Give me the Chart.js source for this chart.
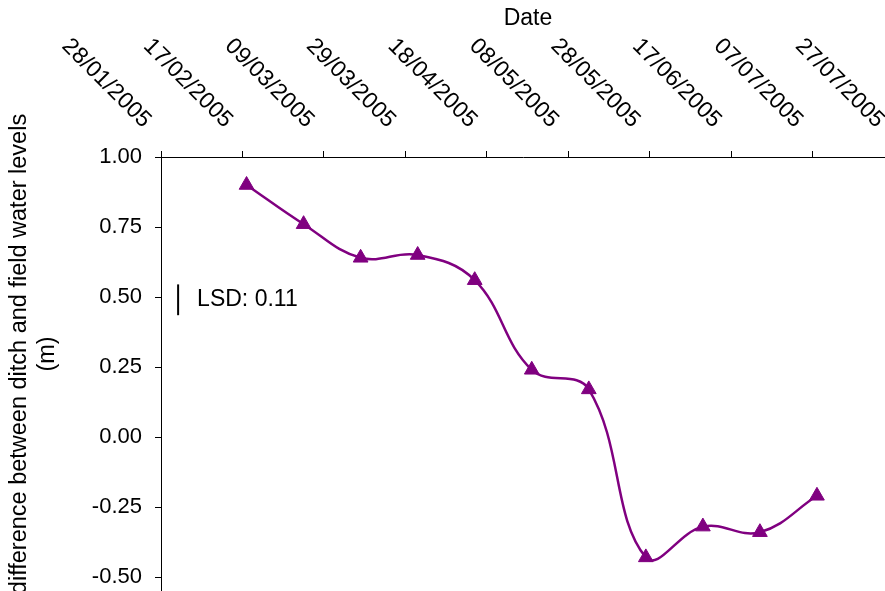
<!DOCTYPE html>
<html>
<head>
<meta charset="utf-8">
<script src="https://cdn.jsdelivr.net/npm/chart.js@4.4.1/dist/chart.umd.min.js"></script>
<style>
  html, body { margin: 0; padding: 0; background: #fff; }
  canvas { display: block; }
</style>
</head>
<body>
<canvas id="level-chart" width="885" height="591"></canvas>
<script>
// sampling dates and measured level difference (m)
const sampleDates = ['18/02/2005', '04/03/2005', '18/03/2005', '01/04/2005', '15/04/2005', '29/04/2005',
    '13/05/2005', '27/05/2005', '10/06/2005', '24/06/2005', '08/07/2005'];
const levelDiff = [0.90, 0.76, 0.64, 0.65, 0.56, 0.24, 0.17, -0.43, -0.32, -0.34, -0.21];

// date axis tick labels (every 20 days)
const dateTicks = ['28/01/2005', '17/02/2005', '09/03/2005', '29/03/2005', '18/04/2005', '08/05/2005',
    '28/05/2005', '17/06/2005', '07/07/2005', '27/07/2005'];
const yTicks = [-0.50, -0.25, 0.00, 0.25, 0.50, 0.75, 1.00];

const lsdValue = 0.11;
const yTitle = ['difference between ditch and field water levels', '(m)'];

const PURPLE = '#800080';
const FAMILY = '"Liberation Sans", Arial, sans-serif';
const BIG_FONT = '23px ' + FAMILY;

// days since the first axis date
const dayOf = (s) => {
    const p = s.split('/');
    const t0 = dateTicks[0].split('/');
    return (Date.UTC(+p[2], +p[1] - 1, +p[0]) - Date.UTC(+t0[2], +t0[1] - 1, +t0[0])) / 86400000;
}

const points = sampleDates.map((d, i) => ({ x: dayOf(d), y: levelDiff[i] }));
const tickDays = dateTicks.map(dayOf);

const extraText = {
    id: 'extraText',
    afterDraw(chart) {
        const { ctx, chartArea, scales: { x, y } } = chart;
        ctx.save();
        ctx.fillStyle = '#000';
        ctx.strokeStyle = '#000';
        ctx.font = BIG_FONT;

        // rotated date labels above the top axis
        dateTicks.forEach((lbl, i) => {
            const px = x.getPixelForValue(tickDays[i]);
            ctx.save();
            ctx.translate(px - 14, chartArea.top - 33);
            ctx.rotate(Math.PI / 4);
            ctx.textAlign = 'right';
            ctx.textBaseline = 'middle';
            ctx.fillText(lbl, 0, 0);
            ctx.restore();
        });

        // axis titles
        ctx.textAlign = 'center';
        ctx.textBaseline = 'middle';
        ctx.fillText('Date', 528, 19);

        ctx.save();
        ctx.font = '23.5px ' + FAMILY;
        ctx.translate(0, 354);
        ctx.rotate(-Math.PI / 2);
        ctx.fillText(yTitle[0], 0, 20);
        ctx.fillText(yTitle[1], 0, 48);
        ctx.restore();

        // LSD bar
        const lx = x.getPixelForValue(4.2);
        const yc = 0.49;
        ctx.lineWidth = 2;
        ctx.beginPath();
        ctx.moveTo(lx, y.getPixelForValue(yc + lsdValue / 2));
        ctx.lineTo(lx, y.getPixelForValue(yc - lsdValue / 2));
        ctx.stroke();
        ctx.textAlign = 'left';
        ctx.fillText('LSD: ' + lsdValue.toFixed(2), lx + 19, y.getPixelForValue(yc));
        ctx.restore();
    }
}

const ctx = document.getElementById('level-chart');
new Chart(ctx, {
    type: 'line',
    data: {
        datasets: [{
            data: points,
            borderColor: PURPLE,
            backgroundColor: PURPLE,
            pointBackgroundColor: PURPLE,
            pointBorderColor: PURPLE,
            pointStyle: 'triangle',
            pointRadius: 8.5,
            pointBorderWidth: 1,
            borderWidth: 2.5,
            tension: 0.4,
            fill: false,
        }]
    },
    options: {
        responsive: false,
        animation: false,
        layout: { padding: 0, autoPadding: false },
        plugins: {
            legend: { display: false },
            tooltip: { enabled: false },
        },
        scales: {
            x: {
                type: 'linear',
                position: 'top',
                min: 0,
                max: 177.7,
                afterBuildTicks: (s) => { s.ticks = tickDays.filter(d => d <= 177.7).map(d => ({ value: d })) },
                afterFit: (s) => { s.height = 157; s.paddingLeft = 0; s.paddingRight = 0 },
                ticks: { display: false },
                grid: { drawOnChartArea: false, tickLength: 6, color: '#000' },
                border: { color: '#000' },
            },
            y: {
                min: -0.55,
                max: 1,
                afterBuildTicks: (s) => { s.ticks = yTicks.map(v => ({ value: v })) },
                afterFit: (s) => { s.width = 161; s.paddingTop = 0; s.paddingBottom = 0 },
                ticks: {
                    callback: (v) => v.toFixed(2),
                    font: { family: FAMILY, size: 22 },
                    color: '#000',
                    padding: 13,
                },
                grid: { drawOnChartArea: false, tickLength: 6, color: '#000' },
                border: { color: '#000' },
            }
        }
    },
    plugins: [extraText]
});
</script>
</body>
</html>
